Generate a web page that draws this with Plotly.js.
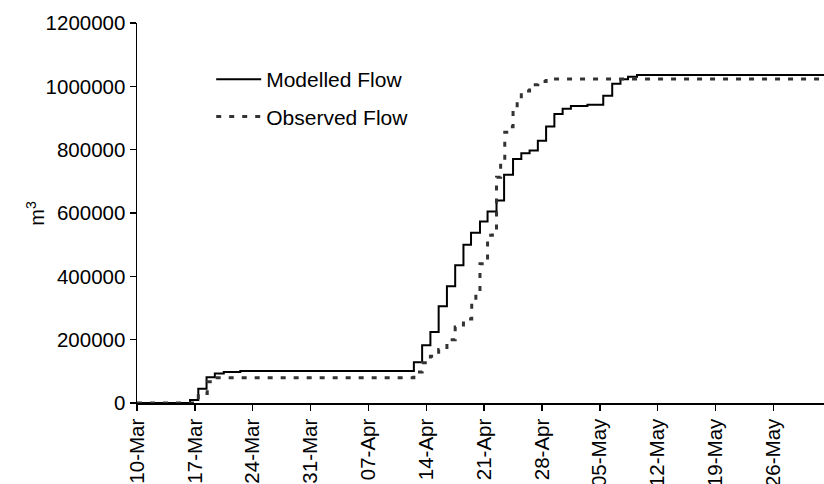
<!DOCTYPE html>
<html>
<head>
<meta charset="utf-8">
<script src="https://cdn.plot.ly/plotly-3.0.1.min.js"></script>
<style>
  html, body { margin: 0; padding: 0; background: #fff; }
  #chart { width: 824px; height: 484px; }
</style>
</head>
<body>
<div id="chart"></div>
<script>
// Step times (the moment each new cumulative value starts) and cumulative volumes (m3)
const modelledTimes = [
  '2001-03-10 00:00', '2001-03-16 10:00', '2001-03-17 10:00', '2001-03-18 10:00',
  '2001-03-19 10:00', '2001-03-20 12:00', '2001-03-22 12:00',
  '2001-04-12 12:00', '2001-04-13 12:00', '2001-04-14 12:00', '2001-04-15 12:00',
  '2001-04-16 12:00', '2001-04-17 12:00', '2001-04-18 12:00', '2001-04-19 10:00',
  '2001-04-20 12:00', '2001-04-21 10:00', '2001-04-22 12:00', '2001-04-23 10:00',
  '2001-04-24 12:00', '2001-04-25 12:00', '2001-04-26 12:00', '2001-04-27 12:00',
  '2001-04-28 12:00', '2001-04-29 12:00', '2001-04-30 12:00', '2001-05-01 12:00',
  '2001-05-03 12:00', '2001-05-05 10:00', '2001-05-06 12:00', '2001-05-07 12:00',
  '2001-05-08 10:00', '2001-05-09 12:00', '2001-06-03 00:00'
];
const modelledFlow = [
  0, 9500, 45000, 81000,
  93500, 98000, 101000,
  129000, 182000, 224600, 305500,
  368500, 434700, 500000, 537700,
  573300, 604800, 639500, 720400,
  770800, 788500, 797000, 828500,
  873500, 913000, 929000, 938000,
  942000, 970000, 1008000, 1022000,
  1030000, 1036000, 1036000
];

const observedTimes = [
  '2001-03-10 00:00', '2001-03-17 10:00', '2001-03-18 12:00', '2001-03-19 12:00',
  '2001-04-12 12:00', '2001-04-13 12:00', '2001-04-14 12:00', '2001-04-15 12:00',
  '2001-04-16 12:00', '2001-04-17 12:00', '2001-04-18 12:00', '2001-04-19 12:00',
  '2001-04-20 00:00', '2001-04-20 12:00', '2001-04-21 10:00', '2001-04-22 00:00',
  '2001-04-22 12:00', '2001-04-23 00:00', '2001-04-23 12:00', '2001-04-24 00:00',
  '2001-04-24 12:00', '2001-04-25 00:00', '2001-04-25 12:00', '2001-04-26 12:00',
  '2001-04-27 12:00', '2001-04-28 12:00', '2001-06-03 00:00'
];
const observedFlow = [
  0, 30000, 67000, 80000,
  98000, 127000, 148000, 169000,
  200000, 240000, 265000, 320000,
  350000, 440000, 530000, 547000,
  713000, 760000, 855000, 872000,
  930000, 960000, 985000, 1005000,
  1015000, 1023000, 1023000
];

const xTickVals = ['2001-03-10', '2001-03-17', '2001-03-24', '2001-03-31', '2001-04-07',
  '2001-04-14', '2001-04-21', '2001-04-28', '2001-05-05', '2001-05-12', '2001-05-19', '2001-05-26'];
const xTickText = ['10-Mar', '17-Mar', '24-Mar', '31-Mar', '07-Apr', '14-Apr',
  '21-Apr', '28-Apr', '05-May', '12-May', '19-May', '26-May'];
const yTickVals = [0, 200000, 400000, 600000, 800000, 1000000, 1200000];
const yTickText = ['0', '200000', '400000', '600000', '800000', '1000000', '1200000'];
const yTitle = 'm<sup>3</sup>';

const FONT = '"Liberation Sans", Arial, Helvetica, sans-serif';

const traces = [
  {
    x: modelledTimes, y: modelledFlow, name: 'Modelled Flow',
    type: 'scatter', mode: 'lines', line: { shape: 'hv', color: '#000', width: 2 },
    legendgroup: 'a'
  },
  {
    x: observedTimes, y: observedFlow, name: 'Observed Flow',
    type: 'scatter', mode: 'lines', line: { shape: 'hv', color: '#333', width: 3, dash: '5px,8px' },
    legendgroup: 'b'
  }
];

const layout = {
  width: 824, height: 484,
  margin: { l: 137, r: 0, t: 23, b: 81 },
  paper_bgcolor: '#fff', plot_bgcolor: '#fff',
  font: { family: FONT, size: 20, color: '#000' },
  showlegend: true,
  legend: {
    x: 0.108, y: 0.905, xanchor: 'left', yanchor: 'top',
    bgcolor: 'rgba(0,0,0,0)', font: { family: FONT, size: 21, color: '#000' },
    traceorder: 'grouped', tracegroupgap: 7, itemwidth: 45
  },
  xaxis: {
    type: 'date', range: ['2001-03-10', '2001-06-01 03:00'],
    tickmode: 'array', tickvals: xTickVals, ticktext: xTickText, tickangle: -90,
    ticks: 'outside', ticklen: 6, tickwidth: 1.5, tickcolor: '#000',
    showline: true, linecolor: '#000', linewidth: 1.5, showgrid: false, zeroline: false,
    tickfont: { family: FONT, size: 20.5, color: '#000' }
  },
  yaxis: {
    range: [0, 1200000],
    tickmode: 'array', tickvals: yTickVals, ticktext: yTickText,
    ticks: 'outside', ticklen: 6, tickwidth: 1.5, tickcolor: '#000',
    showline: true, linecolor: '#000', linewidth: 1.5, showgrid: false, zeroline: false,
    tickfont: { family: FONT, size: 20.5, color: '#000' }
  },
  annotations: [
    {
      text: yTitle, xref: 'paper', yref: 'paper', x: -0.149, y: 0.5,
      xanchor: 'center', yanchor: 'middle', textangle: -90, showarrow: false,
      font: { family: FONT, size: 20, color: '#000' }
    }
  ]
};

Plotly.newPlot('chart', traces, layout, { displayModeBar: false, staticPlot: true });
</script>
</body>
</html>
